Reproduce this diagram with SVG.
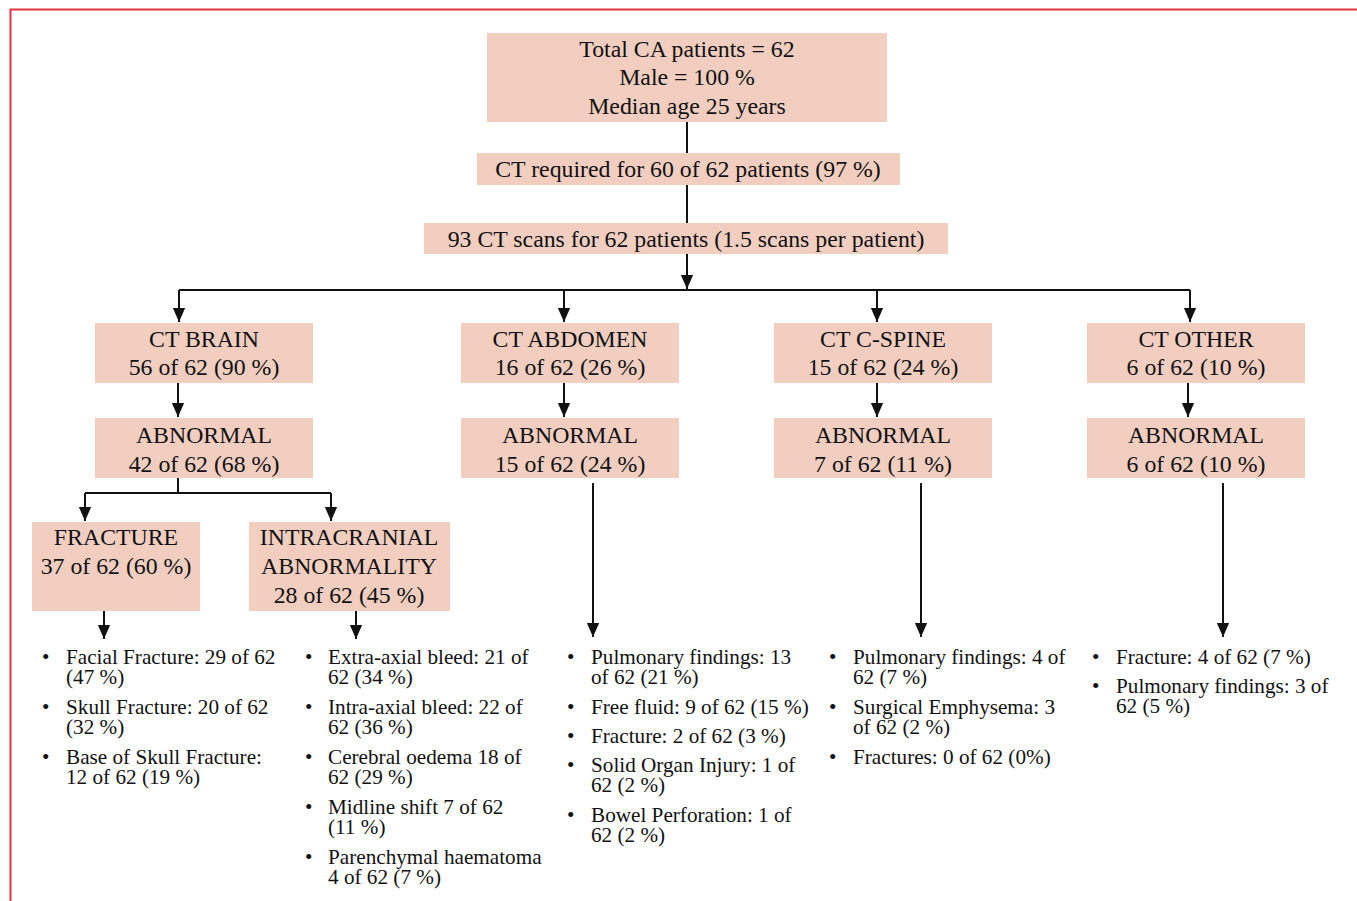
<svg xmlns="http://www.w3.org/2000/svg" width="1357" height="901" viewBox="0 0 1357 901">
<style>
.box{fill:#f2cec0}
.t{font-family:'Liberation Serif','Times New Roman',Times,'DejaVu Serif',serif;font-size:23.8px;fill:#111;text-anchor:middle}
.b{font-family:'Liberation Serif','Times New Roman',Times,'DejaVu Serif',serif;font-size:21.2px;fill:#111}
.ln{stroke:#111;stroke-width:2;fill:none}
</style>
<defs>
<marker id="ad" markerUnits="userSpaceOnUse" markerWidth="14" markerHeight="16" viewBox="0 0 16 14" refX="16" refY="7" orient="auto">
<path d="M0,0 L16,7 L0,14 Z" fill="#111"/>
</marker>
</defs>
<rect width="1357" height="901" fill="#fff"/>
<rect x="10.5" y="9.5" width="1400" height="950" fill="none" stroke="#e0333d" stroke-width="2"/>

<g id="connectors">
<path class="ln" d="M687,122 V153"/>
<path class="ln" d="M687,185 V223"/>
<path class="ln" d="M687,254 V289" marker-end="url(#ad)"/>
<path class="ln" d="M179,290 H1190"/>
<path class="ln" d="M179,290 V322" marker-end="url(#ad)"/>
<path class="ln" d="M564,290 V322" marker-end="url(#ad)"/>
<path class="ln" d="M877,290 V322" marker-end="url(#ad)"/>
<path class="ln" d="M1190,290 V322" marker-end="url(#ad)"/>
<path class="ln" d="M178,383 V417" marker-end="url(#ad)"/>
<path class="ln" d="M564,383 V417" marker-end="url(#ad)"/>
<path class="ln" d="M877,383 V417" marker-end="url(#ad)"/>
<path class="ln" d="M1188,383 V417" marker-end="url(#ad)"/>
<path class="ln" d="M178,478 V493"/>
<path class="ln" d="M85,493 H331"/>
<path class="ln" d="M85,493 V521" marker-end="url(#ad)"/>
<path class="ln" d="M331,493 V521" marker-end="url(#ad)"/>
<path class="ln" d="M104,611 V639" marker-end="url(#ad)"/>
<path class="ln" d="M356,611 V639" marker-end="url(#ad)"/>
<path class="ln" d="M593,483 V637" marker-end="url(#ad)"/>
<path class="ln" d="M921,483 V637" marker-end="url(#ad)"/>
<path class="ln" d="M1223,483 V637" marker-end="url(#ad)"/>
</g>

<g id="n-total">
<rect class="box" x="487" y="33" width="400" height="89"/>
<text class="t" x="687" y="57">Total CA patients = 62</text>
<text class="t" x="687" y="85">Male = 100 %</text>
<text class="t" x="687" y="114">Median age 25 years</text>
</g>
<g id="n-ctreq">
<rect class="box" x="477" y="153" width="423" height="32"/>
<text class="t" x="688" y="177">CT required for 60 of 62 patients (97 %)</text>
</g>
<g id="n-scans">
<rect class="box" x="424" y="223" width="524" height="31"/>
<text class="t" x="686" y="247">93 CT scans for 62 patients (1.5 scans per patient)</text>
</g>

<g id="n-brain">
<rect class="box" x="95" y="323" width="218" height="60"/>
<text class="t" x="204" y="347">CT BRAIN</text>
<text class="t" x="204" y="375">56 of 62 (90 %)</text>
</g>
<g id="n-abdomen">
<rect class="box" x="461" y="323" width="218" height="60"/>
<text class="t" x="570" y="347">CT ABDOMEN</text>
<text class="t" x="570" y="375">16 of 62 (26 %)</text>
</g>
<g id="n-cspine">
<rect class="box" x="774" y="323" width="218" height="60"/>
<text class="t" x="883" y="347">CT C-SPINE</text>
<text class="t" x="883" y="375">15 of 62 (24 %)</text>
</g>
<g id="n-other">
<rect class="box" x="1087" y="323" width="218" height="60"/>
<text class="t" x="1196" y="347">CT OTHER</text>
<text class="t" x="1196" y="375">6 of 62 (10 %)</text>
</g>

<g id="n-brain-abn">
<rect class="box" x="95" y="418" width="218" height="60"/>
<text class="t" x="204" y="443">ABNORMAL</text>
<text class="t" x="204" y="472">42 of 62 (68 %)</text>
</g>
<g id="n-abd-abn">
<rect class="box" x="461" y="418" width="218" height="60"/>
<text class="t" x="570" y="443">ABNORMAL</text>
<text class="t" x="570" y="472">15 of 62 (24 %)</text>
</g>
<g id="n-cs-abn">
<rect class="box" x="774" y="418" width="218" height="60"/>
<text class="t" x="883" y="443">ABNORMAL</text>
<text class="t" x="883" y="472">7 of 62 (11 %)</text>
</g>
<g id="n-oth-abn">
<rect class="box" x="1087" y="418" width="218" height="60"/>
<text class="t" x="1196" y="443">ABNORMAL</text>
<text class="t" x="1196" y="472">6 of 62 (10 %)</text>
</g>

<g id="n-fracture">
<rect class="box" x="32" y="522" width="168" height="89"/>
<text class="t" x="116" y="545">FRACTURE</text>
<text class="t" x="116" y="574">37 of 62 (60 %)</text>
</g>
<g id="n-intracranial">
<rect class="box" x="249" y="522" width="201" height="89"/>
<text class="t" x="349" y="545">INTRACRANIAL</text>
<text class="t" x="349" y="574">ABNORMALITY</text>
<text class="t" x="349" y="603">28 of 62 (45 %)</text>
</g>

<g id="list-fracture">
<text class="b" x="42" y="664">•</text><text class="b" x="66" y="664">Facial Fracture: 29 of 62<tspan x="66" dy="20">(47 %)</tspan></text>
<text class="b" x="42" y="714">•</text><text class="b" x="66" y="714">Skull Fracture: 20 of 62<tspan x="66" dy="20">(32 %)</tspan></text>
<text class="b" x="42" y="764">•</text><text class="b" x="66" y="764">Base of Skull Fracture:<tspan x="66" dy="20">12 of 62 (19 %)</tspan></text>
</g>
<g id="list-intracranial">
<text class="b" x="305" y="664">•</text><text class="b" x="328" y="664">Extra-axial bleed: 21 of<tspan x="328" dy="20">62 (34 %)</tspan></text>
<text class="b" x="305" y="714">•</text><text class="b" x="328" y="714">Intra-axial bleed: 22 of<tspan x="328" dy="20">62 (36 %)</tspan></text>
<text class="b" x="305" y="764">•</text><text class="b" x="328" y="764">Cerebral oedema 18 of<tspan x="328" dy="20">62 (29 %)</tspan></text>
<text class="b" x="305" y="814">•</text><text class="b" x="328" y="814">Midline shift 7 of 62<tspan x="328" dy="20">(11 %)</tspan></text>
<text class="b" x="305" y="864">•</text><text class="b" x="328" y="864">Parenchymal haematoma<tspan x="328" dy="20">4 of 62 (7 %)</tspan></text>
</g>
<g id="list-abdomen">
<text class="b" x="567" y="664">•</text><text class="b" x="591" y="664">Pulmonary findings: 13<tspan x="591" dy="20">of 62 (21 %)</tspan></text>
<text class="b" x="567" y="714">•</text><text class="b" x="591" y="714">Free fluid: 9 of 62 (15 %)</text>
<text class="b" x="567" y="743">•</text><text class="b" x="591" y="743">Fracture: 2 of 62 (3 %)</text>
<text class="b" x="567" y="772">•</text><text class="b" x="591" y="772">Solid Organ Injury: 1 of<tspan x="591" dy="20">62 (2 %)</tspan></text>
<text class="b" x="567" y="822">•</text><text class="b" x="591" y="822">Bowel Perforation: 1 of<tspan x="591" dy="20">62 (2 %)</tspan></text>
</g>
<g id="list-cspine">
<text class="b" x="829" y="664">•</text><text class="b" x="853" y="664">Pulmonary findings: 4 of<tspan x="853" dy="20">62 (7 %)</tspan></text>
<text class="b" x="829" y="714">•</text><text class="b" x="853" y="714">Surgical Emphysema: 3<tspan x="853" dy="20">of 62 (2 %)</tspan></text>
<text class="b" x="829" y="764">•</text><text class="b" x="853" y="764">Fractures: 0 of 62 (0%)</text>
</g>
<g id="list-other">
<text class="b" x="1092" y="664">•</text><text class="b" x="1116" y="664">Fracture: 4 of 62 (7 %)</text>
<text class="b" x="1092" y="693">•</text><text class="b" x="1116" y="693">Pulmonary findings: 3 of<tspan x="1116" dy="20">62 (5 %)</tspan></text>
</g>
</svg>
